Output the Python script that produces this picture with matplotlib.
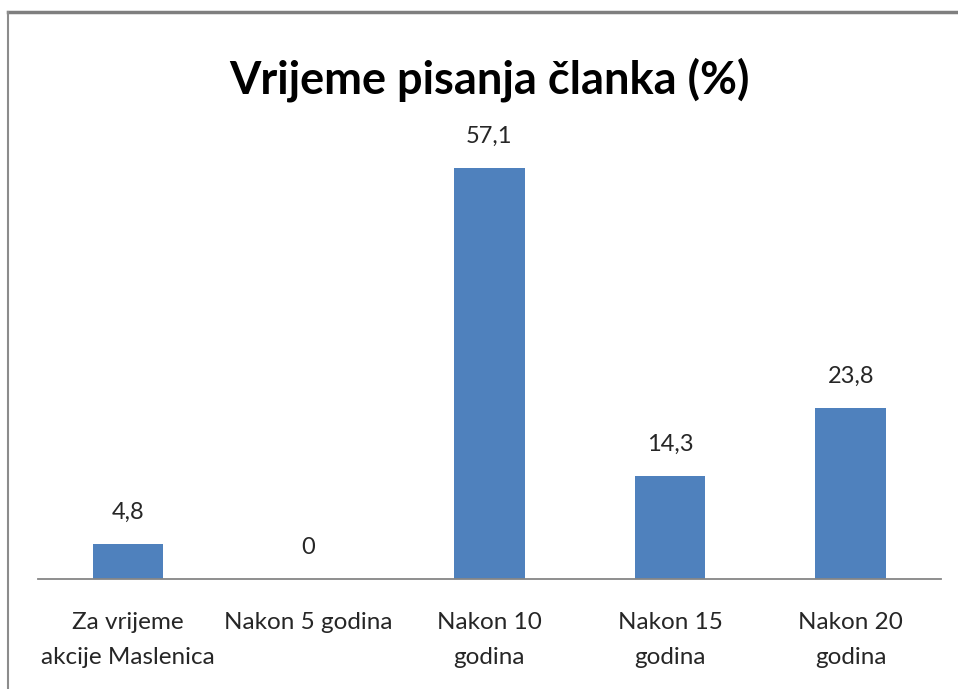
import matplotlib.pyplot as plt
from matplotlib.lines import Line2D

# data
categories = ['Za vrijeme\nakcije Maslenica', 'Nakon 5 godina', 'Nakon 10\ngodina',
              'Nakon 15\ngodina', 'Nakon 20\ngodina']
values = [4.8, 0, 57.1, 14.3, 23.8]
value_labels = ['4,8', '0', '57,1', '14,3', '23,8']

plt.rcParams['font.family'] = ['Lato', 'DejaVu Sans']

W, H = 958, 689
fig = plt.figure(figsize=(W / 100, H / 100), dpi=100)
fig.patch.set_facecolor('white')

# outer chart border (top and left visible)
fig.add_artist(Line2D([8 / W, 1], [1 - 12 / H, 1 - 12 / H], transform=fig.transFigure,
                      color='#7f7f7f', lw=2.5))
fig.add_artist(Line2D([8 / W, 8 / W], [0, 1 - 12 / H], transform=fig.transFigure,
                      color='#8c8c8c', lw=1.5))

ax = fig.add_axes([37.6 / W, (H - 579) / H, 903.4 / W, (579 - 147) / H])
x = range(len(categories))
bars = ax.bar(x, values, width=0.39, color='#4F81BD', zorder=2)

ax.set_xlim(-0.5, len(categories) - 0.5)
ax.set_ylim(0, 60)

for xi, v, lab in zip(x, values, value_labels):
    ax.text(xi, v + 4.4, lab, ha='center', va='center', fontsize=17, color='#262626')

for s in ['top', 'right', 'left']:
    ax.spines[s].set_visible(False)
ax.spines['bottom'].set_color('#868686')
ax.spines['bottom'].set_linewidth(1.3)
ax.set_yticks([])
ax.set_xticks(list(x))
ax.set_xticklabels(categories, fontsize=17.5, color='#262626', linespacing=1.8)
ax.tick_params(axis='x', length=0, pad=24)

fig.text(489 / W, 1 - 80 / H, 'Vrijeme pisanja članka (%)', ha='center', va='center',
         fontsize=32.5, fontweight='bold', color='black')

fig.savefig('out.png', dpi=100)
